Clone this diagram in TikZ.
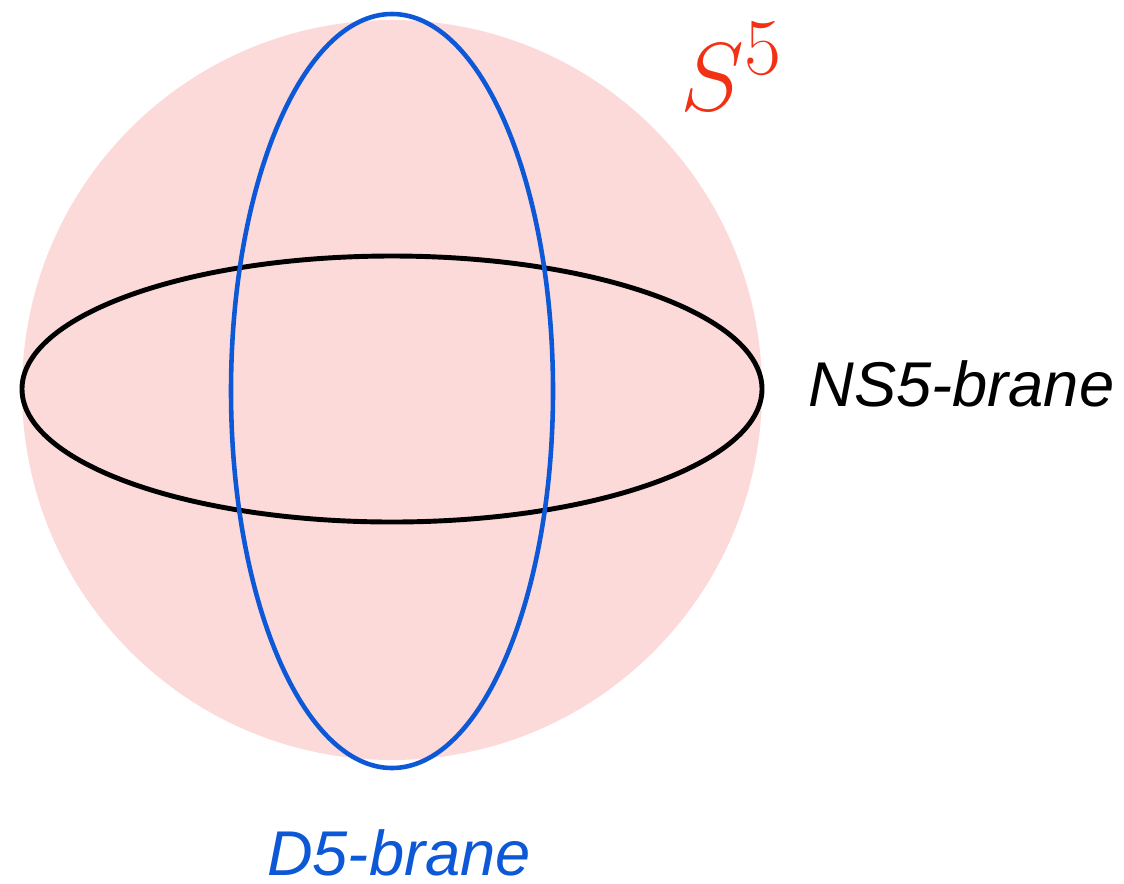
\documentclass[tikz,border=0pt]{standalone}
\usepackage{fontspec}
\newfontfamily\labelfont{Liberation Sans}
\usepackage{tikz}
\usetikzlibrary{positioning}

\definecolor{spherepink}{RGB}{253,218,218}
\definecolor{branered}{RGB}{242,48,20}
\definecolor{braneblue}{RGB}{12,88,215}

\begin{document}
\begin{tikzpicture}[
  x=0.02cm, y=-0.02cm,
  lbl/.style={font=\labelfont\itshape\fontsize{36}{40}\selectfont, inner sep=0pt},
  nsedge/.style={draw=black, line width=2.8pt},
  dedge/.style={draw=braneblue, line width=2.6pt}
]
\useasboundingbox (0,0) rectangle (1124,883);

\fill[spherepink] (392,390) circle (370);
\draw[nsedge] (392,389) ellipse (370 and 133);
\draw[dedge] (392,391) ellipse (161 and 377);

\node[text=branered, inner sep=0pt, anchor=base west, scale=2.21,
  font=\Huge] (sfive) at (680,110) {$S^5$};
\node[lbl, anchor=base west] (ns) at (808,406) {NS5-brane};
\node[lbl, anchor=base, text depth=0pt, text=braneblue] (dfive) at (399,875) {D5-brane};

\end{tikzpicture}
\end{document}
